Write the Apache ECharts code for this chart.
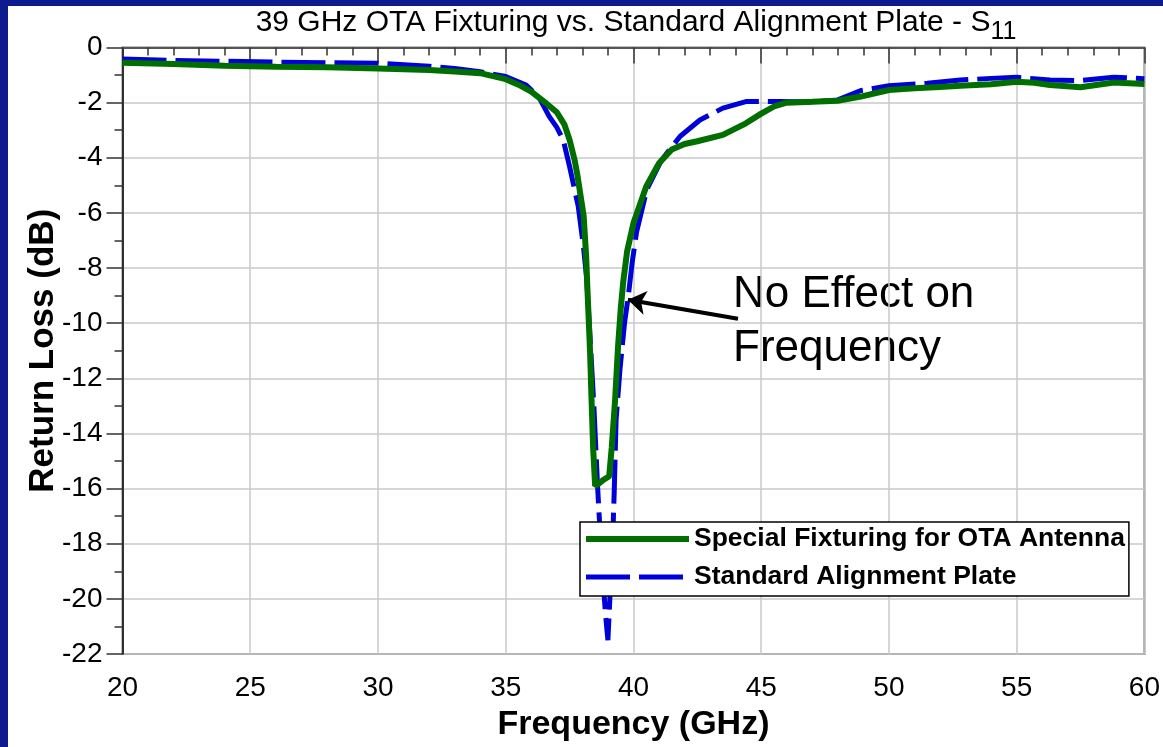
<!DOCTYPE html>
<html>
<head>
<meta charset="utf-8">
<script src="https://cdn.jsdelivr.net/npm/echarts@6/dist/echarts.min.js"></script>
<style>
  html, body { margin: 0; padding: 0; background: #0d1b8e; width: 1163px; height: 747px; overflow: hidden; }
  #chart { position: absolute; left: 8px; top: 6px; width: 1155px; height: 741px; background: #fff; }
</style>
</head>
<body>
<div id="chart"></div>
<script>
// Special Fixturing for OTA Antenna (green)
const freqFixture = [20, 22, 24, 26, 28, 30, 32, 33, 34, 35, 35.5, 36, 36.5, 37, 37.3, 37.5, 37.7, 37.8, 37.95, 38.05, 38.15, 38.2, 38.3, 38.36, 38.42, 38.5, 38.6, 38.8, 39.05, 39.15, 39.28, 39.4, 39.5, 39.6, 39.75, 40, 40.5, 41, 41.5, 42, 42.5, 43.5, 44.4, 45, 45.5, 46, 47, 48, 48.9, 50, 51, 52, 52.8, 54, 55, 55.7, 56.3, 57.5, 58.8, 60];
const lossFixture = [-0.55, -0.6, -0.66, -0.7, -0.72, -0.76, -0.82, -0.87, -0.93, -1.15, -1.35, -1.6, -1.96, -2.35, -2.8, -3.35, -4.1, -4.6, -5.5, -6.1, -7.6, -8.8, -11, -12.8, -14.5, -15.9, -15.85, -15.7, -15.55, -14.5, -12.8, -10.8, -9.5, -8.5, -7.4, -6.37, -5.04, -4.2, -3.7, -3.5, -3.4, -3.17, -2.75, -2.4, -2.14, -2.0, -1.97, -1.93, -1.78, -1.54, -1.48, -1.43, -1.39, -1.33, -1.24, -1.28, -1.36, -1.44, -1.27, -1.32];

// Standard Alignment Plate (blue, dashed)
const freqPlate = [20, 22, 24, 26, 28, 30, 32, 33, 34, 35, 35.8, 36.3, 36.7, 37, 37.25, 37.5, 37.84, 38.04, 38.17, 38.3, 38.45, 38.6, 38.75, 38.9, 39, 39.1, 39.2, 39.25, 39.32, 39.47, 39.65, 39.8, 39.95, 40.12, 40.52, 41.1, 41.82, 42.6, 43.5, 44.4, 45.7, 47, 48, 48.9, 50, 51.5, 52.8, 54, 55, 56.3, 57.5, 58.8, 60];
const lossPlate = [-0.42, -0.47, -0.5, -0.53, -0.55, -0.57, -0.68, -0.76, -0.88, -1.05, -1.36, -1.8, -2.5, -2.9, -3.35, -4.32, -5.77, -7.2, -8.4, -10.5, -13, -16, -18.5, -20.5, -21.5, -19.5, -17.5, -16, -13.5, -11.7, -10, -9.0, -7.8, -6.7, -5.16, -4.08, -3.23, -2.63, -2.2, -1.96, -1.96, -1.98, -1.9, -1.56, -1.39, -1.3, -1.18, -1.12, -1.08, -1.18, -1.2, -1.08, -1.13];

const seriesNames = ['Special Fixturing for OTA Antenna', 'Standard Alignment Plate'];
const xTicks = [20, 60, 5];   // min, max, interval
const yTicks = [-22, 0, 2];

// annotation arrow: tail -> head in data units
const arrowTail = [44.09, -9.84];
const arrowHead = [39.78, -9.15];

const font = "'Liberation Sans', Arial, sans-serif";
const green = '#006f00';
const blue = '#0000d8';
const dash = [44, 9];
const toPairs = (xs, ys) => xs.map((x, i) => [x, ys[i]]);

const chart = echarts.init(document.getElementById('chart'));
chart.setOption({
  animation: false,
  title: {
    text: '39 GHz OTA Fixturing vs. Standard Alignment Plate - S{sub|11}',
    left: 628,
    textAlign: 'center',
    top: -6,
    padding: 0,
    textStyle: {
      fontFamily: font,
      fontSize: 30,
      fontWeight: 'normal',
      color: '#000',
      rich: {
        sub: { fontFamily: font, fontSize: 25, color: '#000', padding: [20, 0, 0, 0] },
      },
    },
  },
  grid: {
    left: 114.5,
    right: 17,
    top: 41.5,
    bottom: 92.5,
    show: true,
    borderColor: '#808080',
    borderWidth: 2,
  },
  legend: {
    orient: 'vertical',
    left: 572,
    top: 516,
    padding: [2, 4, 4, 3],
    itemGap: 8,
    itemWidth: 103,
    itemHeight: 20,
    backgroundColor: '#fff',
    borderColor: '#000',
    borderWidth: 1.5,
    borderRadius: 0,
    textStyle: { fontFamily: font, fontSize: 26.5, fontWeight: 'bold', color: '#000', lineHeight: 30 },
    data: [
      { name: seriesNames[0], itemStyle: { opacity: 0 }, lineStyle: { color: green, width: 6, type: 'solid' } },
      { name: seriesNames[1], itemStyle: { opacity: 0 }, lineStyle: { color: blue, width: 5, type: dash } },
    ],
  },
  xAxis: {
    type: 'value',
    min: xTicks[0],
    max: xTicks[1],
    interval: xTicks[2],
    name: 'Frequency (GHz)',
    nameLocation: 'middle',
    nameGap: 54,
    nameMoveOverlap: false,
    nameTextStyle: { fontFamily: font, fontSize: 34, fontWeight: 'bold', color: '#000' },
    axisLine: { lineStyle: { color: '#555', width: 2 } },
    axisTick: { length: 16, lineStyle: { color: '#333', width: 1.5 } },
    minorTick: { show: true, splitNumber: 5, length: 8, lineStyle: { color: '#333', width: 1.5 } },
    axisLabel: { fontFamily: font, fontSize: 28, color: '#000', margin: 20 },
    splitLine: { lineStyle: { color: '#c8c8c8', width: 1.5 } },
  },
  yAxis: {
    type: 'value',
    min: yTicks[0],
    max: yTicks[1],
    interval: yTicks[2],
    name: 'Return Loss (dB)',
    nameLocation: 'middle',
    nameRotate: 90,
    nameGap: 62,
    nameMoveOverlap: false,
    nameTextStyle: { fontFamily: font, fontSize: 35, fontWeight: 'bold', color: '#000' },
    axisLine: { show: true, lineStyle: { color: '#000', width: 1.5 } },
    axisTick: { show: true, length: 16, lineStyle: { color: '#333', width: 1.5 } },
    minorTick: { show: true, splitNumber: 2, length: 8, lineStyle: { color: '#333', width: 1.5 } },
    axisLabel: { fontFamily: font, fontSize: 28, color: '#000', margin: 20 },
    splitLine: { lineStyle: { color: '#c8c8c8', width: 1.5 } },
  },
  series: [
    {
      name: seriesNames[1],
      type: 'line',
      data: toPairs(freqPlate, lossPlate),
      showSymbol: false,
      symbol: 'none',
      color: blue,
      lineStyle: { color: blue, width: 5, type: dash },
      z: 2,
    },
    {
      name: seriesNames[0],
      type: 'line',
      data: toPairs(freqFixture, lossFixture),
      showSymbol: false,
      symbol: 'none',
      color: green,
      lineStyle: { color: green, width: 6 },
      z: 3,
      markLine: {
        silent: true,
        symbol: ['none', 'arrow'],
        symbolSize: 18,
        label: { show: false },
        lineStyle: { color: '#000', width: 4, type: 'solid' },
        data: [[{ coord: arrowTail }, { coord: arrowHead }]],
      },
    },
  ],
  graphic: [
    {
      type: 'text',
      left: 725,
      top: 262,
      style: {
        text: 'No Effect on\nFrequency',
        font: "44px 'Liberation Sans', Arial, sans-serif",
        lineHeight: 54,
        fill: '#000',
      },
    },
  ],
});
</script>
</body>
</html>
